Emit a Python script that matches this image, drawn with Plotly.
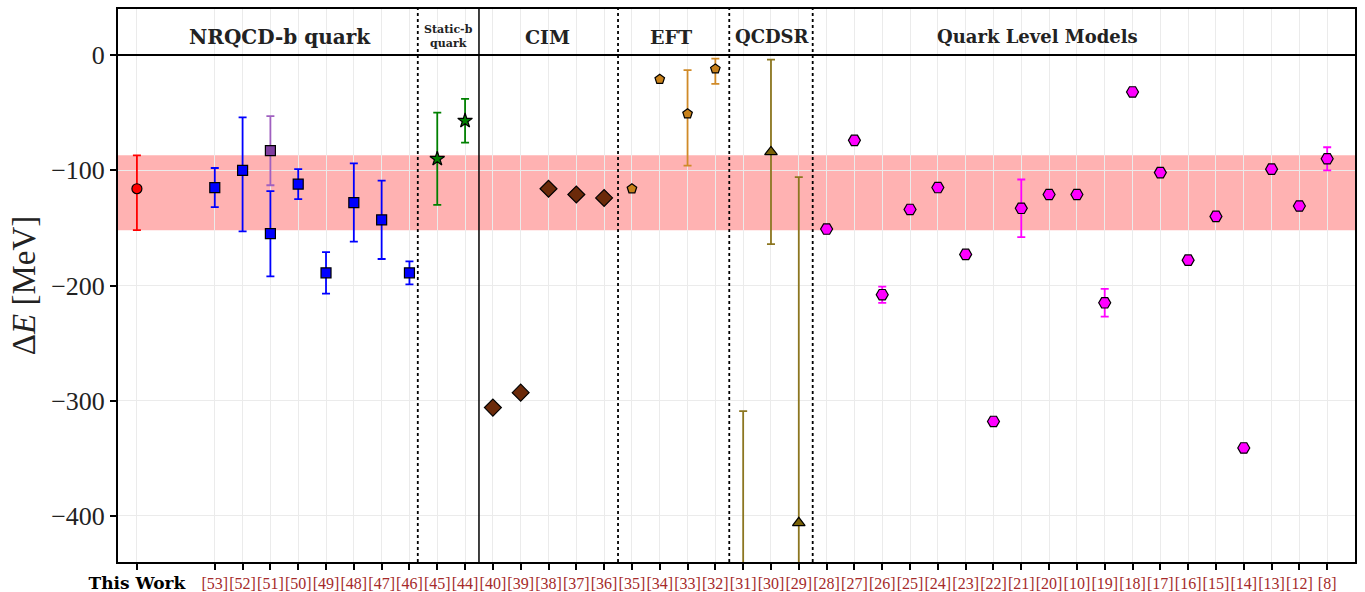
import plotly.graph_objects as go

# ---------------- data ----------------
this_work_label = ["This Work"]
this_work_val = [-116]
this_work_up = [29]
this_work_dn = [36]

nrqcd_labels = ["[53]", "[52]", "[51]", "[50]", "[49]", "[48]", "[47]", "[46]"]
nrqcd_vals = [-115, -100, -155, -112, -189, -128, -143, -189]
nrqcd_up = [17, 46, 37, 13, 18, 34, 34, 10]
nrqcd_dn = [17, 53, 37, 13, 18, 34, 34, 10]

nrqcd_alt_labels = ["[51]"]
nrqcd_alt_vals = [-83]
nrqcd_alt_err = [30]

static_labels = ["[45]", "[44]"]
static_vals = [-90, -57]
static_err = [40, 19]

cim_labels = ["[40]", "[39]", "[38]", "[37]", "[36]"]
cim_vals = [-306, -293, -116, -121, -124]

eft_labels = ["[35]", "[34]", "[33]", "[32]"]
eft_vals = [-116, -21, -51, -12]
eft_up = [0, 0, 38, 9]
eft_dn = [0, 0, 45, 13]

qcdsr_labels = ["[31]", "[30]", "[29]"]
qcdsr_vals = [-520, -84, -406]
qcdsr_up = [211, 80, 300]
qcdsr_dn = [100, 80, 300]

qlm_labels = ["[28]", "[27]", "[26]", "[25]", "[24]", "[23]", "[22]", "[21]", "[20]", "[10]",
              "[19]", "[18]", "[17]", "[16]", "[15]", "[14]", "[13]", "[12]", "[8]"]
qlm_vals = [-151, -74, -208, -134, -115, -173, -318, -133, -121, -121,
            -215, -32, -102, -178, -140, -341, -99, -131, -90]
qlm_err = [0, 0, 7, 0, 0, 0, 0, 25, 0, 0, 12, 0, 0, 0, 0, 0, 0, 0, 10]

band_low, band_high = -152, -87

# ---------------- positions ----------------
ref_labels = nrqcd_labels + static_labels + cim_labels + eft_labels + qcdsr_labels + qlm_labels
gap_first = 2.8
pos = {"This Work": 0.0}
for i, lab in enumerate(ref_labels):
    pos[lab] = gap_first + i

def xs(labels):
    return [pos[l] for l in labels]

SERIF = "Liberation Serif, DejaVu Serif, serif"
BOLDSERIF = "DejaVu Serif, serif"
REFCOL = "#A52A2A"

fig = go.Figure()

def add(labels, vals, color, symbol, size, up=None, dn=None, barcolor=None, lw=1.2):
    err = None
    if up is not None:
        err = dict(type="data", symmetric=False, array=up,
                   arrayminus=dn if dn is not None else up,
                   color=barcolor or color, thickness=1.8, width=4)
    fig.add_trace(go.Scatter(
        x=xs(labels), y=vals, mode="markers",
        marker=dict(color=color, symbol=symbol, size=size,
                    line=dict(color="black", width=lw)),
        error_y=err, showlegend=False))

add(this_work_label, this_work_val, "#FF0000", "circle", 10, this_work_up, this_work_dn)
add(nrqcd_alt_labels, nrqcd_alt_vals, "#8040A0", "square", 10, nrqcd_alt_err, nrqcd_alt_err, "#A060C0")
add(nrqcd_labels, nrqcd_vals, "#0000FF", "square", 10, nrqcd_up, nrqcd_dn)
add(static_labels, static_vals, "#008000", "star", 11, static_err, static_err)
add(cim_labels, cim_vals, "#6B2A0A", "diamond", 13)
add(eft_labels, eft_vals, "#C8811A", "pentagon", 10, eft_up, eft_dn, "#D08A28")
add(qcdsr_labels, qcdsr_vals, "#7A6208", "triangle-up", 11, qcdsr_up, qcdsr_dn, "#8C7620")
add(qlm_labels, qlm_vals, "#FF00FF", "hexagon2", 12, qlm_err, qlm_err)

shapes = []
shapes.append(dict(type="rect", xref="paper", yref="y", x0=0, x1=1, y0=band_low, y1=band_high,
                   fillcolor="rgba(255,0,0,0.30)", line=dict(width=0), layer="below"))
shapes.append(dict(type="line", xref="paper", yref="y", x0=0, x1=1, y0=0, y1=0,
                   line=dict(color="black", width=2)))
div_dotted = [pos["[46]"] + 0.3,
              (pos["[36]"] + pos["[35]"]) / 2,
              (pos["[32]"] + pos["[31]"]) / 2,
              (pos["[29]"] + pos["[28]"]) / 2]
for xd in div_dotted:
    shapes.append(dict(type="line", xref="x", yref="paper", x0=xd, x1=xd, y0=0, y1=1,
                       line=dict(color="black", width=1.8, dash="dot")))
xs_solid = (pos["[44]"] + pos["[40]"]) / 2
shapes.append(dict(type="line", xref="x", yref="paper", x0=xs_solid, x1=xs_solid, y0=0, y1=1,
                   line=dict(color="black", width=1.5)))

annotations = []
heads = [("NRQCD-b quark", 5.14, 20), ("CIM", 14.75, 19), ("EFT", 19.2, 19),
         ("QCDSR", 22.85, 18), ("Quark Level Models", 32.4, 18)]
for txt, xh, fs in heads:
    annotations.append(dict(x=xh, y=16, xref="x", yref="y", text="<b>%s</b>" % txt,
                            showarrow=False, font=dict(family=BOLDSERIF, size=fs, color="#222222")))
annotations.append(dict(x=11.2, y=16, xref="x", yref="y", text="<b>Static-b<br>quark</b>",
                        showarrow=False, font=dict(family=BOLDSERIF, size=11, color="#222222")))

tickvals = [pos["This Work"]] + [pos[l] for l in ref_labels]
ticktext = ["<b><span style='font-family:DejaVu Serif;font-size:17px;color:black'>This Work</span></b>"] + ref_labels

fig.update_layout(
    width=1365, height=592,
    margin=dict(l=118, r=10, t=9, b=30),
    plot_bgcolor="white", paper_bgcolor="white",
    shapes=shapes, annotations=annotations,
    font=dict(family=SERIF),
    xaxis=dict(range=[-0.68, gap_first + len(ref_labels) - 1 + 1.0],
               tickvals=tickvals, ticktext=ticktext, tickangle=0, automargin=False,
               tickfont=dict(family=SERIF, size=16, color=REFCOL),
               ticks="outside", ticklen=6, tickwidth=1.5, tickcolor="black",
               showgrid=True, gridcolor="#EBEBEB", gridwidth=1,
               showline=True, linecolor="black", linewidth=2, mirror=True,
               zeroline=False),
    yaxis=dict(range=[-440, 40], tickvals=[0, -100, -200, -300, -400], automargin=False,
               tickfont=dict(family=SERIF, size=26, color="#222222"),
               ticks="outside", ticklen=6, tickwidth=1.5, tickcolor="black",
               showgrid=True, gridcolor="#EBEBEB", gridwidth=1,
               showline=True, linecolor="black", linewidth=2, mirror=True,
               zeroline=False,
               title=dict(text="Δ<i>E</i> [MeV]", font=dict(family=SERIF, size=33, color="#222222"),
                          standoff=6)),
)

fig.write_html("out.html", config={"displayModeBar": False},
               post_script="document.body.style.margin='0';document.body.style.overflow='hidden';")
